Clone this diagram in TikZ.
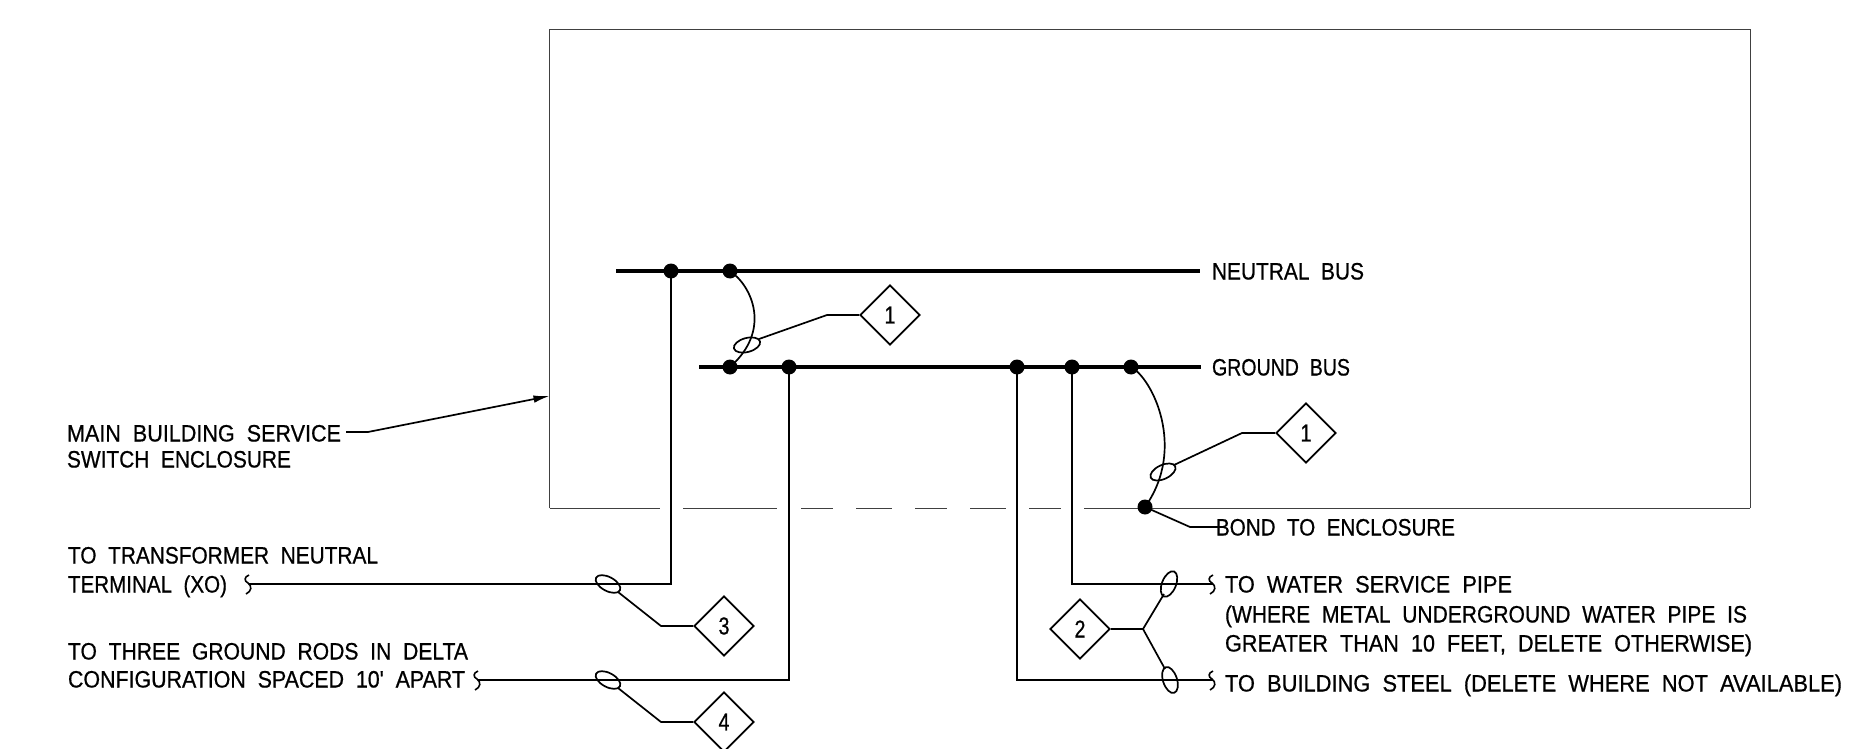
\documentclass[tikz,border=0pt]{standalone}
\usepackage{graphicx}
\usepackage{fontspec}
\newfontfamily\cadfont[FakeStretch=0.8,FakeBold=0.6,WordSpace=2]{Liberation Sans}
\usetikzlibrary{shapes.geometric,arrows.meta}
\tikzset{
  wire/.style={line width=1.7pt},
  thin line/.style={line width=1pt,black!75},
  bus/.style={line width=3.3pt},
  dot/.style={circle,fill=black,inner sep=0pt,minimum size=15pt},
  tag/.style={diamond,draw,line width=1.7pt,inner sep=0pt,minimum width=60pt,minimum height=60pt,font=\cadfont\fontsize{24.5}{26}\selectfont},
  sleeve/.style={ellipse,draw,line width=1.7pt,inner sep=0pt,minimum width=27pt,minimum height=14pt},
  lab/.style={anchor=base west,inner sep=0pt,outer sep=0pt},
  squig/.pic={\draw[line width=1.6pt] (0,-9) .. controls (-5,-7) and (-5,-3) .. (-1,-1) .. controls (3,2) and (3,7) .. (-3,10);}
}
\newcommand{\lbl}[2]{\cadfont\fontsize{23.7}{28}\selectfont\resizebox{#1pt}{\height}{#2}}
\begin{document}
\begin{tikzpicture}[x=1pt,y=-1pt]
\useasboundingbox (0,0) rectangle (1856,749);
% enclosure
\coordinate (bl) at (549.5,508);
\coordinate (tl) at (549.5,30);
\coordinate (tr) at (1750,30);
\coordinate (br) at (1750,508);
\draw[thin line] (bl) -- (tl) -- (tr) -- (br);
\draw[thin line] (bl) -- (660,508) (683,508) -- (777,508) (801,508) -- (833,508) (856,508) -- (892,508) (915,508) -- (947,508) (970,508) -- (1006,508) (1029,508) -- (1061,508) (1084,508) -- (br);
% buses
\coordinate (nbL) at (616,271);
\coordinate (nbR) at (1200,271);
\coordinate (gbL) at (699,367);
\coordinate (gbR) at (1201,367);
\draw[bus] (nbL) -- (nbR);
\draw[bus] (gbL) -- (gbR);
\node[dot] (n1) at (671,271) {};
\node[dot] (n2) at (730,271) {};
\node[dot] (g1) at (730,367) {};
\node[dot] (g2) at (789,367) {};
\node[dot] (g3) at (1017,367) {};
\node[dot] (g4) at (1072,367) {};
\node[dot] (g5) at (1131,367) {};
\node[dot] (bd) at (1145,507) {};
% jumpers
\draw[wire] (n2.center) .. controls (752,286) and (772,330) .. (g1.center);
\draw[wire] (g5.center) .. controls (1152,378) and (1187,448) .. (bd.center);
% enclosure label
\coordinate (a0) at (346,432);
\coordinate (a1) at (368,432);
\coordinate (a2) at (549.5,396);
\draw[wire,-{Latex[length=16pt,width=7.5pt]}] (a0) -- (a1) -- (a2);
% feeders
\coordinate (c1) at (671,584);
\coordinate (c2) at (789,680);
\coordinate (c3) at (1072,584);
\coordinate (c4) at (1017,680);
\pic at (249,584) {squig};
\pic at (478,680) {squig};
\pic at (1213,584) {squig};
\pic at (1213,680) {squig};
\coordinate (e1) at (249,584);
\coordinate (e2) at (478,680);
\coordinate (e3) at (1213,584);
\coordinate (e4) at (1213,680);
\draw[wire] (n1.center) -- (c1) -- (e1);
\draw[wire] (g2.center) -- (c2) -- (e2);
\draw[wire] (g4.center) -- (c3) -- (e3);
\draw[wire] (g3.center) -- (c4) -- (e4);
% sleeves
\node[sleeve,rotate=15] (s1) at (747,345) {};
\node[sleeve,rotate=25] (s2) at (1163,472) {};
\node[sleeve,rotate=-28] (s3) at (608,584) {};
\node[sleeve,rotate=-28] (s4) at (608,680) {};
\node[sleeve,rotate=68] (s5) at (1169,584) {};
\node[sleeve,rotate=-72] (s6) at (1170,680) {};
% tags
\node[tag] (d1) at (890,315) {1};
\node[tag] (d2) at (1306,433) {1};
\node[tag] (d3) at (724,626) {3};
\node[tag] (d4) at (724,722) {4};
\node[tag] (d5) at (1080,629) {2};
\coordinate (k1) at (827,315);
\coordinate (k2) at (1242,433);
\coordinate (k3) at (661,626);
\coordinate (k4) at (661,722);
\coordinate (k5) at (1143,629);
\coordinate (k6) at (1190,527);
\coordinate (l1) at (759,339);
\coordinate (l2) at (1174,465);
\coordinate (l3) at (618,592);
\coordinate (l4) at (618,688);
\coordinate (l5) at (1164,594);
\coordinate (l6) at (1165,669);
\coordinate (b1) at (1218,527);
\draw[wire] (l1) -- (k1) -- (d1.west);
\draw[wire] (l2) -- (k2) -- (d2.west);
\draw[wire] (l3) -- (k3) -- (d3.west);
\draw[wire] (l4) -- (k4) -- (d4.west);
\draw[wire] (d5.east) -- (k5) -- (l5);
\draw[wire] (k5) -- (l6);
\draw[wire] (bd.center) -- (k6) -- (b1);
% labels
\node[lab] (t1) at (67,441.5) {\lbl{274}{MAIN BUILDING SERVICE}};
\node[lab] (t2) at (67,467.5) {\lbl{224}{SWITCH ENCLOSURE}};
\node[lab] (t3) at (1212,279.5) {\lbl{152}{NEUTRAL BUS}};
\node[lab] (t4) at (1212,375.5) {\lbl{138}{GROUND BUS}};
\node[lab] (t5) at (1216,535.5) {\lbl{239}{BOND TO ENCLOSURE}};
\node[lab] (t6) at (1225,592.5) {\lbl{287}{TO WATER SERVICE PIPE}};
\node[lab] (t7) at (1225,622.5) {\lbl{522}{(WHERE METAL UNDERGROUND WATER PIPE IS}};
\node[lab] (t8) at (1225,651.5) {\lbl{527}{GREATER THAN 10 FEET, DELETE OTHERWISE)}};
\node[lab] (t9) at (1225,691.5) {\lbl{617}{TO BUILDING STEEL (DELETE WHERE NOT AVAILABLE)}};
\node[lab] (t10) at (68,563.5) {\lbl{310}{TO TRANSFORMER NEUTRAL}};
\node[lab] (t11) at (68,592.5) {\lbl{159}{TERMINAL (XO)}};
\node[lab] (t12) at (68,659.5) {\lbl{400}{TO THREE GROUND RODS IN DELTA}};
\node[lab] (t13) at (68,687.5) {\lbl{397}{CONFIGURATION SPACED 10' APART}};
\end{tikzpicture}
\end{document}
